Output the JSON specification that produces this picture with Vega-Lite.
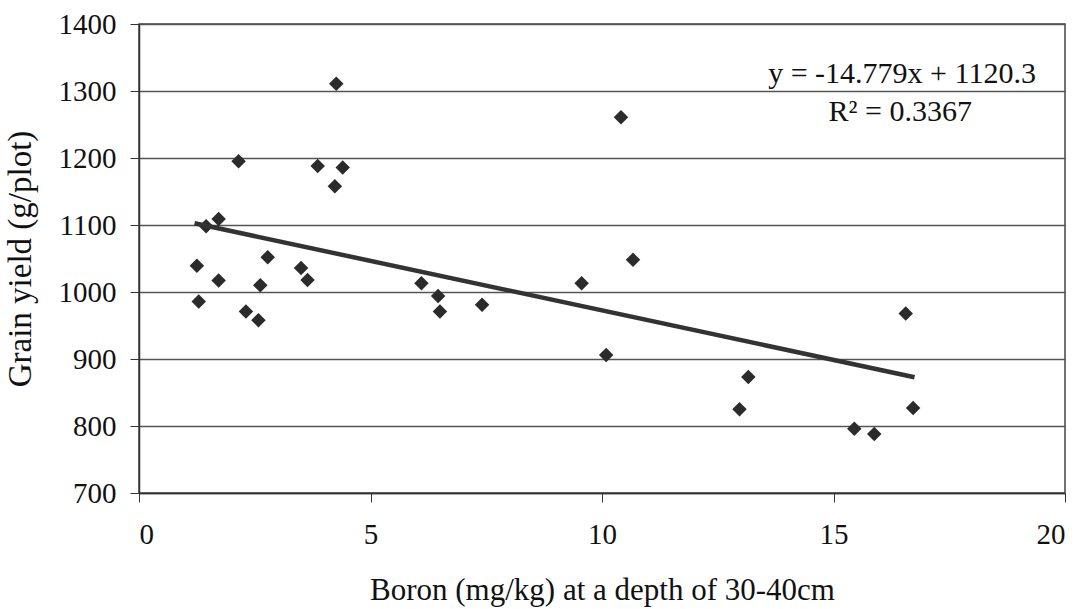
{
  "$schema": "https://vega.github.io/schema/vega-lite/v6.json",
  "width": 926,
  "height": 469,
  "autosize": {"type": "none"},
  "padding": {"left": 139, "top": 24, "right": 26, "bottom": 116},
  "background": "white",
  "config": {
    "font": "Liberation Serif",
    "view": {"stroke": "#444", "strokeWidth": 1.5}
  },
  "datasets": {
    "points": [
      {"boron": 2.15, "yield": 1195},
      {"boron": 3.86, "yield": 1188},
      {"boron": 4.40, "yield": 1186},
      {"boron": 4.23, "yield": 1158},
      {"boron": 1.72, "yield": 1109},
      {"boron": 1.45, "yield": 1098},
      {"boron": 1.25, "yield": 1039},
      {"boron": 2.78, "yield": 1052},
      {"boron": 3.50, "yield": 1036},
      {"boron": 3.64, "yield": 1018},
      {"boron": 1.72, "yield": 1017},
      {"boron": 2.62, "yield": 1010},
      {"boron": 1.29, "yield": 986},
      {"boron": 2.31, "yield": 971},
      {"boron": 2.58, "yield": 958},
      {"boron": 4.26, "yield": 1311},
      {"boron": 6.10, "yield": 1013},
      {"boron": 6.46, "yield": 994},
      {"boron": 6.50, "yield": 971},
      {"boron": 7.41, "yield": 981},
      {"boron": 9.56, "yield": 1013},
      {"boron": 10.67, "yield": 1048},
      {"boron": 10.09, "yield": 906},
      {"boron": 10.41, "yield": 1261},
      {"boron": 16.56, "yield": 968},
      {"boron": 13.16, "yield": 873},
      {"boron": 12.97, "yield": 825},
      {"boron": 16.72, "yield": 827},
      {"boron": 15.45, "yield": 796},
      {"boron": 15.88, "yield": 788}
    ],
    "trend": [
      {"boron": 1.2, "yield": 1102.6},
      {"boron": 16.75, "yield": 872.8}
    ],
    "labels": [
      {"boron": 16.48, "yield": 1325, "label": "y = -14.779x + 1120.3"},
      {"boron": 16.44, "yield": 1268, "label": "R² = 0.3367"}
    ]
  },
  "layer": [
    {
      "data": {"name": "points"},
      "mark": {"type": "point", "shape": "diamond", "filled": true, "size": 210, "color": "#2b2b2b", "opacity": 1},
      "encoding": {
        "x": {
          "field": "boron", "type": "quantitative",
          "scale": {"domain": [0, 20], "nice": false},
          "axis": {
            "values": [0, 5, 10, 15, 20],
            "grid": false,
            "tickSize": 9,
            "tickColor": "#333",
            "domainColor": "#333",
            "domainWidth": 1.5,
            "labelFontSize": 29,
            "labelColor": "#111",
            "labelPadding": 18,
            "title": "Boron (mg/kg) at a depth of 30-40cm",
            "titleFontSize": 31,
            "titleFontWeight": "normal",
            "titleColor": "#111",
            "titleY": 97,
            "titleBaseline": "middle"
          }
        },
        "y": {
          "field": "yield", "type": "quantitative",
          "scale": {"domain": [700, 1400], "nice": false, "zero": false},
          "axis": {
            "values": [700, 800, 900, 1000, 1100, 1200, 1300, 1400],
            "format": "d",
            "grid": true,
            "gridColor": "#555",
            "gridWidth": 1.3,
            "tickSize": 9,
            "tickColor": "#333",
            "domainColor": "#333",
            "domainWidth": 1.5,
            "labelFontSize": 29,
            "labelColor": "#111",
            "labelPadding": 14,
            "title": "Grain yield (g/plot)",
            "titleFontSize": 33,
            "titleFontWeight": "normal",
            "titleColor": "#111",
            "titleX": -119,
            "titleBaseline": "middle"
          }
        }
      }
    },
    {
      "data": {"name": "trend"},
      "mark": {"type": "line", "color": "#333", "strokeWidth": 4.5},
      "encoding": {
        "x": {"field": "boron", "type": "quantitative"},
        "y": {"field": "yield", "type": "quantitative"}
      }
    },
    {
      "data": {"name": "labels"},
      "mark": {"type": "text", "font": "Liberation Serif", "fontSize": 30, "align": "center", "baseline": "middle", "color": "#111"},
      "encoding": {
        "x": {"field": "boron", "type": "quantitative"},
        "y": {"field": "yield", "type": "quantitative"},
        "text": {"field": "label"}
      }
    }
  ]
}
